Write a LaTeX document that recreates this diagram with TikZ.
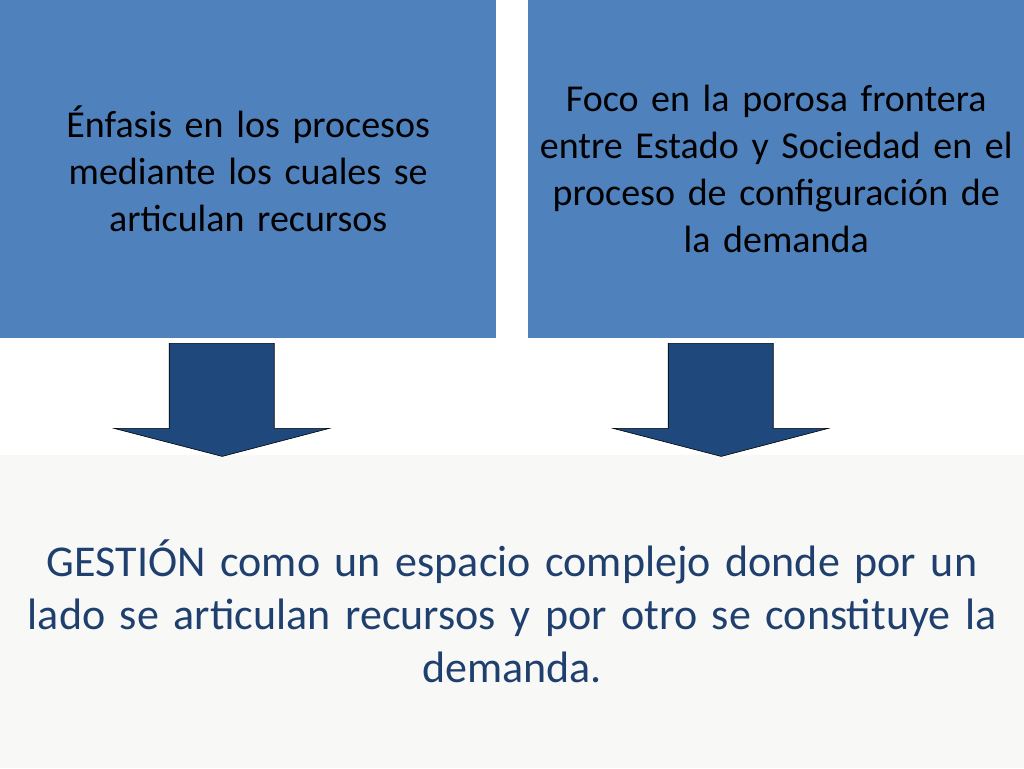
\documentclass[tikz,border=0pt]{standalone}
\usepackage{fontspec}
\setmainfont{Carlito}
\usetikzlibrary{positioning,calc}

\definecolor{boxblue}{HTML}{4F81BD}
\definecolor{arrowblue}{HTML}{1F497D}
\definecolor{textblue}{HTML}{1F3F6E}
\definecolor{paleback}{HTML}{F8F8F6}

\begin{document}
\begin{tikzpicture}[x=1pt, y=-1pt,
    topbox/.style={rectangle, draw=none, fill=boxblue, minimum width=496pt,
        minimum height=338pt, inner sep=0pt, anchor=north west,
        text width=494pt, align=center, text=black,
        font=\fontsize{38}{47}\selectfont},
    basebox/.style={rectangle, draw=none, fill=paleback, minimum width=1024pt,
        minimum height=313pt, inner sep=0pt, anchor=north west,
        text width=1020pt, align=center, text=textblue,
        font=\fontsize{44}{53}\selectfont},
    downarrow/.style={draw=black, line width=0.6pt, fill=arrowblue, line join=miter}
]
\useasboundingbox (0,0) rectangle (1024,768);
\fill[white] (0,0) rectangle (1024,768);
\node (Base) [basebox] at (0,455) {GESTIÓN como un espacio complejo donde por un\\ lado se articulan recursos y por otro se constituye la\\ demanda.};
\node (Enfasis) [topbox] at (0,0) {Énfasis en los procesos\\ mediante los cuales se\\ articulan recursos};
\node (Foco) [topbox] at (528,0) {Foco en la porosa frontera\\ entre Estado y Sociedad en el\\ proceso de configuración de\\ la demanda};
% flechas
\coordinate (tipL) at ($(Enfasis.south)+(-26,118)$);
\coordinate (tipR) at ($(Foco.south)+(-55,118)$);
\draw[downarrow] ($(tipL)+(-53,-113)$) -- ($(tipL)+(52,-113)$) -- ($(tipL)+(52,-28)$)
    -- ($(tipL)+(107,-28)$) -- (tipL) -- ($(tipL)+(-108,-28)$) -- ($(tipL)+(-53,-28)$) -- cycle;
\draw[downarrow] ($(tipR)+(-53,-113)$) -- ($(tipR)+(52,-113)$) -- ($(tipR)+(52,-28)$)
    -- ($(tipR)+(107,-28)$) -- (tipR) -- ($(tipR)+(-108,-28)$) -- ($(tipR)+(-53,-28)$) -- cycle;
\end{tikzpicture}
\end{document}
